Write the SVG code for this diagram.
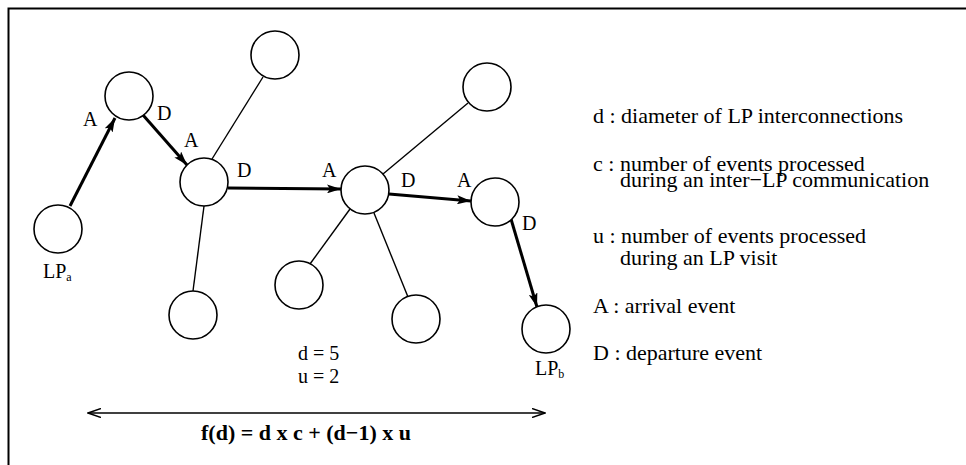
<svg xmlns="http://www.w3.org/2000/svg" width="966" height="465" viewBox="0 0 966 465">
<defs>
<marker id="ah" markerWidth="14" markerHeight="9" refX="14" refY="4.5" orient="auto" markerUnits="userSpaceOnUse">
<path d="M0,0 L14,4.5 L0,9 L3,4.5 Z" fill="#000"/>
</marker>
<marker id="open" markerWidth="14" markerHeight="10" refX="13" refY="5" orient="auto-start-reverse" markerUnits="userSpaceOnUse">
<path d="M0,0.5 L13,5 L0,9.5" fill="none" stroke="#000" stroke-width="1.5"/>
</marker>
</defs>
<style>
.n{fill:#fff;stroke:#000;stroke-width:1.6}
.t{stroke:#000;stroke-width:1.4;fill:none}
.k{stroke:#000;stroke-width:3;fill:none}
.lbl{font-family:"Liberation Serif",serif;font-size:20px;fill:#000}
.lg{font-family:"Liberation Serif",serif;font-size:22px;fill:#000}
.f{font-family:"Liberation Serif",serif;font-size:22px;font-weight:bold;fill:#000}
</style>
<rect width="966" height="465" fill="#fff"/>
<path d="M8.5,465 V8.5 H966" fill="none" stroke="#000" stroke-width="2"/>
<g id="connectors">
<line class="t" x1="212" y1="159" x2="263" y2="77"/>
<line class="t" x1="204" y1="206" x2="193" y2="291"/>
<line class="t" x1="383" y1="174" x2="468" y2="103"/>
<line class="t" x1="350" y1="209" x2="310" y2="264"/>
<line class="t" x1="374" y1="213" x2="408" y2="297"/>
<line class="k" x1="70" y1="206" x2="115" y2="118" marker-end="url(#ah)"/>
<line class="k" x1="143" y1="115" x2="187" y2="165" marker-end="url(#ah)"/>
<line class="k" x1="228" y1="188" x2="341" y2="189" stroke-width="3.5" marker-end="url(#ah)"/>
<line class="k" x1="389" y1="194" x2="471" y2="201" marker-end="url(#ah)"/>
<line class="k" x1="511" y1="219" x2="537" y2="307" marker-end="url(#ah)"/>
<line class="t" x1="88" y1="413" x2="545" y2="413" stroke-width="2" marker-start="url(#open)" marker-end="url(#open)"/>
</g>
<g id="lpa"><circle class="n" cx="58" cy="229" r="24"/><text class="lbl" x="43" y="278" font-size="17">LP<tspan font-size="12" dy="3">a</tspan></text></g>
<g id="n2"><circle class="n" cx="129" cy="96" r="24"/></g>
<g id="n3"><circle class="n" cx="204" cy="182" r="24"/></g>
<g id="n4"><circle class="n" cx="275" cy="55" r="24"/></g>
<g id="n5"><circle class="n" cx="365" cy="190" r="24"/></g>
<g id="n6"><circle class="n" cx="487" cy="87" r="24"/></g>
<g id="n7"><circle class="n" cx="495" cy="202" r="24"/></g>
<g id="n8"><circle class="n" cx="193" cy="315" r="24"/></g>
<g id="n9"><circle class="n" cx="299" cy="285" r="24"/></g>
<g id="n10"><circle class="n" cx="416" cy="319" r="24"/></g>
<g id="lpb"><circle class="n" cx="546" cy="329" r="24"/><text class="lbl" x="535" y="375" font-size="17">LP<tspan font-size="12" dy="3">b</tspan></text></g>
<g id="labels">
<text class="lbl" x="83" y="126">A</text>
<text class="lbl" x="157" y="120">D</text>
<text class="lbl" x="184" y="147">A</text>
<text class="lbl" x="237" y="177">D</text>
<text class="lbl" x="322" y="177">A</text>
<text class="lbl" x="401" y="187">D</text>
<text class="lbl" x="457" y="187">A</text>
<text class="lbl" x="522" y="230">D</text>
<text class="lbl" x="298" y="360" font-size="21">d = 5</text>
<text class="lbl" x="298" y="383" font-size="21">u = 2</text>
</g>
<g id="legend">
<text class="lg" x="593" y="123">d : diameter of LP interconnections</text>
<text class="lg" x="593" y="171">c : number of events processed</text>
<text class="lg" x="620" y="187">during an inter−LP communication</text>
<text class="lg" x="593" y="243">u : number of events processed</text>
<text class="lg" x="620" y="265">during an LP visit</text>
<text class="lg" x="593" y="313">A : arrival event</text>
<text class="lg" x="593" y="360">D : departure event</text>
</g>
<g id="formula"><text class="f" x="201" y="440">f(d) = d x c + (d−1) x u</text></g>
</svg>
